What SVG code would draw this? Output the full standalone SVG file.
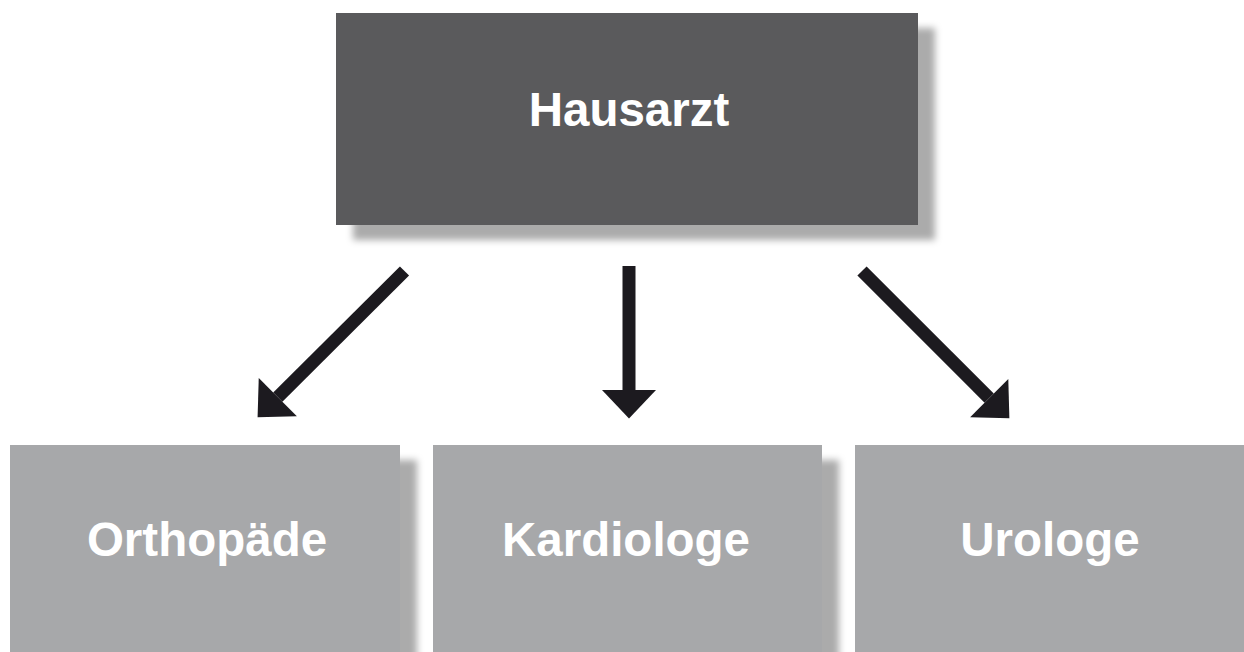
<svg xmlns="http://www.w3.org/2000/svg" width="1244" height="652" viewBox="0 0 1244 652">
  <defs>
    <filter id="shadow" x="-10%" y="-10%" width="130%" height="130%">
      <feDropShadow dx="17" dy="15" stdDeviation="3.5" flood-color="#000" flood-opacity="0.33"/>
    </filter>
    <marker id="head" markerUnits="userSpaceOnUse" markerWidth="30" markerHeight="54" viewBox="0 0 28 53" refX="0" refY="26.5" orient="auto">
      <path d="M0,0 L28,26.5 L0,53 Z" fill="#1c1a1f"/>
    </marker>
    <style>
      .top { fill: #5a5a5c; }
      .sub { fill: #a7a8aa; }
      .lbl { font-family: "Liberation Sans", Arial, sans-serif; font-weight: bold; font-size: 47.5px; fill: #ffffff; text-anchor: middle; }
      .arrow { stroke: #1c1a1f; stroke-width: 13; fill: none; marker-end: url(#head); }
    </style>
  </defs>
  <rect width="1244" height="652" fill="#ffffff"/>
  <g id="connectors">
    <line class="arrow" x1="404.5" y1="271" x2="277.8" y2="397.2"/>
    <line class="arrow" x1="629" y1="266" x2="629" y2="390"/>
    <line class="arrow" x1="862" y1="271" x2="989.2" y2="398.2"/>
  </g>
  <g id="hausarzt">
    <rect class="top" x="336" y="13" width="582" height="212" filter="url(#shadow)"/>
    <text class="lbl" x="629" y="126">Hausarzt</text>
  </g>
  <g id="orthopaede">
    <rect class="sub" x="10" y="445" width="390" height="220" filter="url(#shadow)"/>
    <text class="lbl" x="207" y="556">Orthopäde</text>
  </g>
  <g id="kardiologe">
    <rect class="sub" x="433" y="445" width="389" height="220" filter="url(#shadow)"/>
    <text class="lbl" x="626" y="556">Kardiologe</text>
  </g>
  <g id="urologe">
    <rect class="sub" x="855" y="445" width="400" height="220"/>
    <text class="lbl" x="1050" y="556">Urologe</text>
  </g>
</svg>
